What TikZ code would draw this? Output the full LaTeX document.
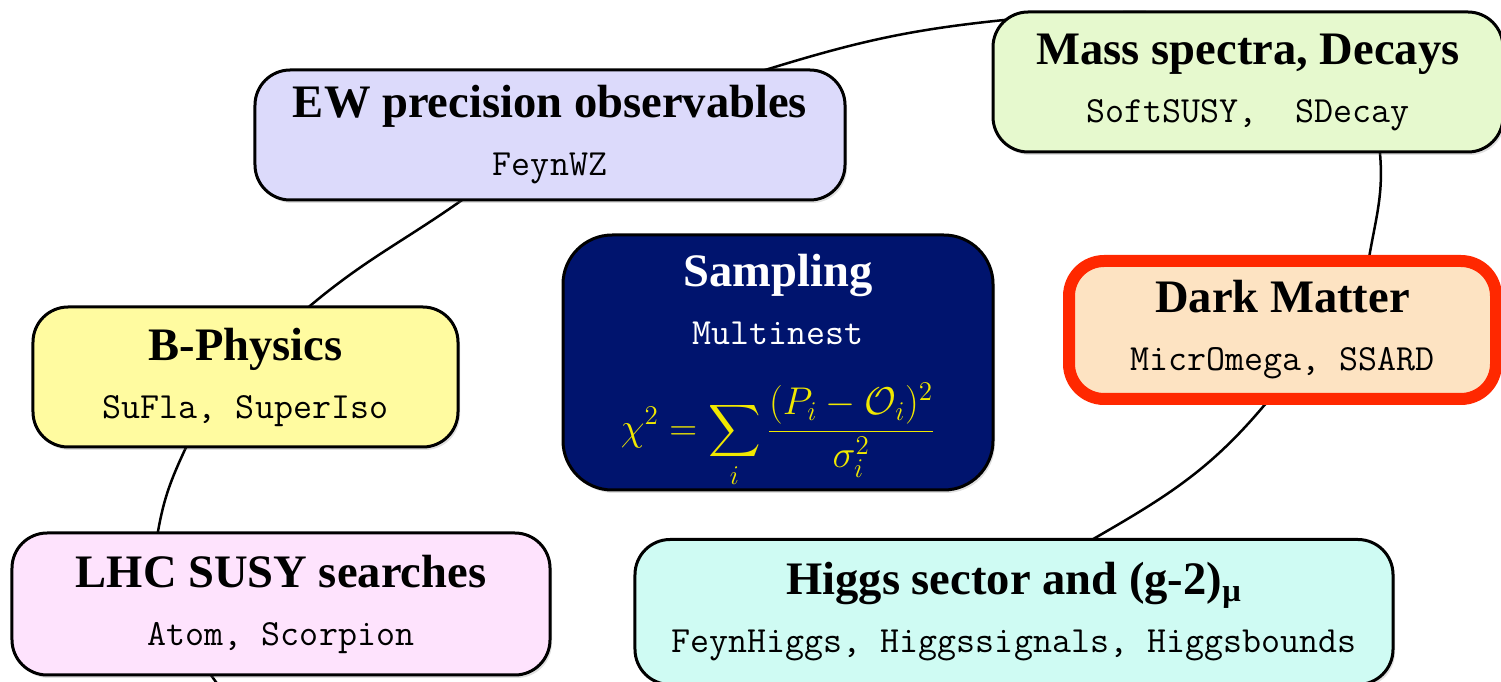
\RequirePackage{fix-cm}
\documentclass[tikz,border=0pt]{standalone}
\usepackage{amsmath}
\usepackage[no-math]{fontspec}
\setmainfont{Liberation Serif}
\usepackage{tikz}
\usetikzlibrary{calc, backgrounds, shadows}
\definecolor{ewc}{RGB}{220,218,251}
\definecolor{massc}{RGB}{230,249,206}
\definecolor{bphc}{RGB}{255,251,160}
\definecolor{smpc}{RGB}{0,20,110}
\definecolor{dmc}{RGB}{253,227,194}
\definecolor{dmred}{RGB}{255,40,0}
\definecolor{lhcc}{RGB}{254,227,253}
\definecolor{hgsc}{RGB}{207,251,243}
\definecolor{fmc}{RGB}{240,232,0}
\newcommand{\bxttl}{\fontsize{26.5}{33}\selectfont\bfseries}
\newcommand{\bxsub}{\fontsize{21}{33}\selectfont\ttfamily}
\tikzset{
  bx/.style  ={rectangle, rounded corners=20pt, draw, line width=0.6mm, align=center, inner sep=0pt,
               font=\fontsize{21}{33}\selectfont,
               drop shadow={opacity=0.25, shadow xshift=0.4mm, shadow yshift=-0.6mm}},
  ring/.style={line width=0.5mm},
}

\begin{document}
\begin{tikzpicture}[x=0.2mm, y=0.2mm]
  \useasboundingbox (0,0) rectangle (1501,682);
  \clip (0,0) rectangle (1501,682);
  \node[bx, fill=ewc, minimum width=118mm, minimum height=26mm] (ew) at (550,547)
    {{\bxttl EW precision observables}\\{\bxsub FeynWZ}};
  \node[bx, fill=massc, minimum width=102mm, minimum height=28mm] (mass) at (1248,600)
    {{\bxttl Mass spectra, Decays}\\{\bxsub SoftSUSY,\ \ SDecay}};
  \node[bx, fill=bphc, minimum width=85mm, minimum height=28mm] (bph) at (245.5,305)
    {{\bxttl B-Physics}\\{\bxsub SuFla, SuperIso}};
  \node[bx, fill=smpc, text=white, rounded corners=28pt, minimum width=86mm, minimum height=51mm] (smp) at (778,319.5)
    {\rule{0pt}{28pt}{\bxttl Sampling}\\{\bxsub Multinest}\\[22pt]
     {\fontsize{22}{33}\selectfont\color{fmc}$\displaystyle\chi^2=\sum_i\frac{(P_i-\mathcal{O}_i)^2}{\sigma_i^2}$}};
  \node[bx, fill=dmc, draw=dmred, line width=2.4mm, minimum width=85.4mm, minimum height=27.6mm] (dm) at (1282.5,352)
    {{\bxttl Dark Matter}\\{\bxsub MicrOmega, SSARD}};
  \node[bx, fill=lhcc, minimum width=107.6mm, minimum height=28.4mm] (lhc) at (281,78)
    {{\bxttl LHC SUSY searches}\\{\bxsub Atom, Scorpion}};
  \node[bx, fill=hgsc, minimum width=151.6mm, minimum height=29mm] (hgs) at (1014,70)
    {{\bxttl Higgs sector and (g-2)\textsubscript{μ}}\\{\bxsub FeynHiggs, Higgssignals, Higgsbounds}};
  \begin{scope}[on background layer]
    \clip (0,0) rectangle (1501,682);
    \draw[ring] ($(hgs.south west)+(-35,-78)$) to[out=170,in=-55] ($(lhc.south)+(-69,0)$)
      to[out=125,in=-100] ($(lhc.north)+(-123,0)$)
      to[out=80,in=-115] ($(bph.south)+(-60,0)$)
      to[out=65,in=-140] ($(bph.north)+(65,0)$)
      to[out=40,in=-145] ($(ew.south)+(-90,0)$)
      to[out=35,in=-163] ($(ew.north)+(220,0)$)
      to[out=17,in=-174] ($(mass.north west)+(8,-10)$)
      to[out=6,in=95] ($(mass.south)+(132,0)$)
      to[out=-85,in=80] ($(dm.north)+(87,0)$)
      to[out=-100,in=45] ($(dm.south)+(-18,0)$)
      to[out=-130,in=30] ($(hgs.north)+(81,0)$)
      to[out=-150,in=10] ($(hgs.south west)+(-35,-78)$);
  \end{scope}
\end{tikzpicture}
\end{document}
